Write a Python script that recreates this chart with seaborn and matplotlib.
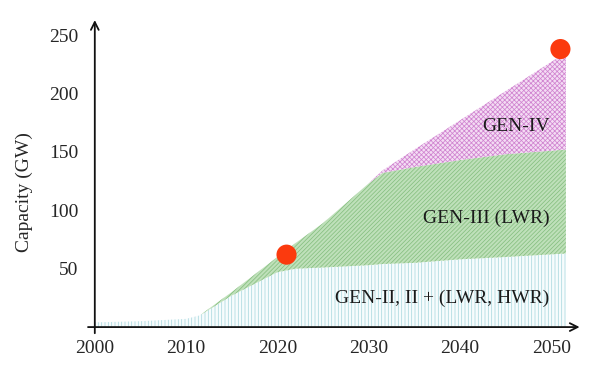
import numpy as np
import pandas as pd
import matplotlib
matplotlib.use("Agg")
import matplotlib.pyplot as plt
import seaborn as sns

# capacity estimates (GW, per technology)
years = [2000, 2005, 2010, 2011.5, 2015, 2020, 2022, 2025, 2030, 2031.5, 2035, 2040, 2045, 2051.6]
gen2 = [4, 5, 7, 10, 27, 47, 50, 51, 53, 54, 55, 58, 60, 63]
gen3 = [0, 0, 0, 0, 3, 13, 22, 38, 70, 78, 82, 85, 88, 89]
gen4 = [0, 0, 0, 0, 0, 0, 0, 0, 0, 2, 15, 34, 54, 83]

dot_years = [2021, 2051]
dot_values = [62, 238]

x_ticks = [2000, 2010, 2020, 2030, 2040, 2050]
y_ticks = [50, 100, 150, 200, 250]

sns.set_style("white")
plt.rcParams["font.family"] = ["Liberation Serif", "DejaVu Serif"]
plt.rcParams["hatch.linewidth"] = 0.55

df = pd.DataFrame({"year": years, "gen2": gen2, "gen3": gen3, "gen4": gen4})
df["top2"] = df["gen2"]
df["top3"] = df["top2"] + df["gen3"]
df["top4"] = df["top3"] + df["gen4"]

fig = plt.figure(figsize=(6, 3.79), dpi=100)
ax = fig.add_axes([0.158, 0.137, 0.808, 0.81])

# stacked hatched areas
ax.fill_between(df["year"], 0, df["top2"], facecolor="#f7fcfd", edgecolor="#a9d9df",
                hatch="|||||", linewidth=0)
ax.fill_between(df["year"], df["top2"], df["top3"], facecolor="#bfe0ba", edgecolor="#86bf80",
                hatch="////////", linewidth=0)
ax.fill_between(df["year"], df["top3"], df["top4"], facecolor="#f4dcf4", edgecolor="#d084d0",
                hatch="xxxxxxx", linewidth=0)

sns.scatterplot(x=dot_years, y=dot_values, ax=ax, s=210, color="#fb3a0e",
                edgecolor="none", zorder=5, clip_on=False)

ax.set_xlim(2000, 2053.1)
ax.set_ylim(0, 262.8)
ax.set_xticks(x_ticks)
ax.set_yticks(y_ticks)
ax.tick_params(length=0, labelsize=14)
ax.tick_params(axis="x", pad=9)
ax.tick_params(axis="y", pad=12)
ax.set_ylabel("Capacity (GW)", fontsize=14)
ax.yaxis.set_label_coords(-0.128, 0.44)

for s in ax.spines.values():
    s.set_visible(False)

# axis lines with arrow heads
arrow = dict(arrowstyle="->", color="#111111", lw=1.3, shrinkA=0, shrinkB=0,
             mutation_scale=14)
ax.annotate("", xy=(1.0, 0), xytext=(-0.014, 0), xycoords="axes fraction",
            textcoords="axes fraction", arrowprops=arrow, annotation_clip=False)
ax.annotate("", xy=(0, 1.0), xytext=(0, -0.02), xycoords="axes fraction",
            textcoords="axes fraction", arrowprops=arrow, annotation_clip=False)

ax.text(2049.8, 172, "GEN-IV", ha="right", va="center", fontsize=14, color="#1a1a1a")
ax.text(2049.8, 93, "GEN-III (LWR)", ha="right", va="center", fontsize=14, color="#1a1a1a")
ax.text(2049.8, 25, "GEN-II, II + (LWR, HWR)", ha="right", va="center", fontsize=14,
        color="#1a1a1a")

fig.savefig("out.png", dpi=100)
